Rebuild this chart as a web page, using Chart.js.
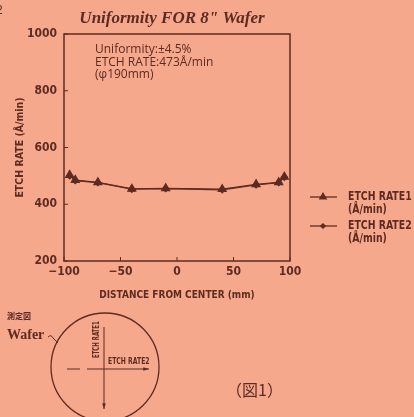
<!DOCTYPE html>
<html>
<head>
<meta charset="utf-8">
<script src="https://cdn.jsdelivr.net/npm/chart.js@4.4.1/dist/chart.umd.min.js"></script>
<style>
  html, body { margin: 0; padding: 0; background: #f5a88c; }
  canvas { display: block; }
</style>
</head>
<body>
<canvas id="chart" width="414" height="417"></canvas>
<script>
// distance from wafer center (mm) and measured etch rate (A/min)
const distances = [-95, -90, -70, -40, -10, 40, 70, 90, 95];
const etchRate1 = [503, 485, 477, 454, 456, 453, 470, 477, 497];
const etchRate2 = [500, 483, 476, 453, 455, 451, 468, 476, 495];
const seriesNames = ['ETCH RATE1', 'ETCH RATE2'];
const unitLabel = '(Å/min)';
const notes = ['Uniformity:±4.5%', 'ETCH RATE:473Å/min', '(φ190mm)'];

const ink = '#5e2b22';
const paper = '#f5a88c';
const narrow = "'DejaVu Sans Condensed', 'DejaVu Sans', sans-serif";

function arrow(c, x1, y1, x2, y2) {
  const a = Math.atan2(y2 - y1, x2 - x1);
  c.beginPath(); c.moveTo(x1, y1); c.lineTo(x2, y2); c.stroke();
  c.beginPath();
  c.moveTo(x2, y2);
  c.lineTo(x2 - 6 * Math.cos(a - 0.3), y2 - 6 * Math.sin(a - 0.3));
  c.lineTo(x2 - 6 * Math.cos(a + 0.3), y2 - 6 * Math.sin(a + 0.3));
  c.closePath(); c.fill();
}

// squeezed text, to get the condensed look of the original print
function squeeze(c, s, x, y, k) {
  c.save();
  c.translate(x, y);
  c.scale(k, 1);
  c.fillText(s, 0, 0);
  c.restore();
}

const decor = {
  id: 'decor',
  beforeDraw(chart) {
    const c = chart.ctx;
    c.save();
    c.fillStyle = paper;
    c.fillRect(0, 0, chart.width, chart.height);
    c.restore();
  },
  afterDraw(chart) {
    const c = chart.ctx;
    const {left, top, right, bottom} = chart.chartArea;
    const xs = chart.scales.x, ys = chart.scales.y;
    c.save();
    c.strokeStyle = ink;
    c.fillStyle = ink;

    // frame + inner ticks
    c.lineWidth = 1.5;
    c.strokeRect(left, top, right - left, bottom - top);
    c.lineWidth = 1;
    ys.ticks.forEach(t => {
      const py = ys.getPixelForValue(t.value);
      c.beginPath(); c.moveTo(left, py); c.lineTo(left + 4, py); c.stroke();
    });
    xs.ticks.forEach(t => {
      const px = xs.getPixelForValue(t.value);
      c.beginPath(); c.moveTo(px, bottom); c.lineTo(px, bottom - 4); c.stroke();
    });

    // title
    c.textAlign = 'center';
    c.textBaseline = 'middle';
    c.font = "italic bold 17px 'Liberation Serif', serif";
    c.fillText('Uniformity FOR 8" Wafer', 172, 19);

    // page number fragment
    c.textAlign = 'left';
    c.font = "12px 'Liberation Sans', sans-serif";
    c.fillText('2', -4, 11);

    // notes inside plot
    c.font = "12px 'Open Sans', sans-serif";
    notes.forEach((s, i) => c.fillText(s, 95, 50 + i * 12.5));

    // legend
    const legendY = [197, 226];
    chart.data.datasets.slice().reverse().forEach((ds, i) => {
      const y = legendY[i];
      c.lineWidth = 1.3;
      c.beginPath(); c.moveTo(310, y); c.lineTo(337, y); c.stroke();
      if (Chart.helpers && Chart.helpers.drawPoint) {
        Chart.helpers.drawPoint(c, {pointStyle: ds.pointStyle, radius: ds.pointRadius - 0.8, borderWidth: 1}, 323, y);
        c.fill();
      }
      c.font = "bold 13px " + narrow;
      squeeze(c, ds.label, 348, y, 0.8);
      squeeze(c, unitLabel, 348, y + 13, 0.8);
    });

    // wafer sketch
    c.lineWidth = 1.3;
    c.beginPath(); c.arc(105, 367, 54, 0, Math.PI * 2); c.stroke();
    c.lineWidth = 1;
    arrow(c, 104, 327, 104, 409);
    c.beginPath(); c.moveTo(67, 369); c.lineTo(80, 369); c.stroke();
    arrow(c, 87, 369, 149, 369);
    c.font = "bold 8px " + narrow;
    squeeze(c, 'ETCH RATE2', 108, 362, 0.85);
    c.save();
    c.translate(97, 358);
    c.rotate(-Math.PI / 2);
    squeeze(c, 'ETCH RATE1', 0, 0, 0.75);
    c.restore();
    c.font = "bold 14px 'Liberation Serif', serif";
    c.fillText('Wafer', 7, 335);
    c.beginPath();
    c.moveTo(48, 337);
    c.quadraticCurveTo(51, 334, 53, 338);
    c.lineTo(58, 343);
    c.stroke();
    c.font = "bold 8px 'Noto Sans CJK JP', sans-serif";
    c.fillText('測定図', 7, 316);
    c.font = "16px 'Noto Sans CJK JP', sans-serif";
    c.fillText('（図1）', 226, 390);
    c.restore();
  }
};

const toPoints = vals => distances.map((d, i) => ({x: d, y: vals[i]}));

new Chart(document.getElementById('chart').getContext('2d'), {
  type: 'line',
  data: {
    datasets: [
      {
        label: seriesNames[1],
        data: toPoints(etchRate2),
        pointStyle: 'rectRot',
        pointRadius: 3,
        borderColor: ink,
        backgroundColor: ink,
        borderWidth: 1.3,
        tension: 0
      },
      {
        label: seriesNames[0],
        data: toPoints(etchRate1),
        pointStyle: 'triangle',
        pointRadius: 4.5,
        borderColor: ink,
        backgroundColor: ink,
        borderWidth: 1.3,
        tension: 0
      }
    ]
  },
  options: {
    responsive: false,
    animation: false,
    layout: { padding: { left: 0, top: 34, right: 124, bottom: 111 } },
    plugins: { legend: { display: false }, tooltip: { enabled: false } },
    scales: {
      x: {
        type: 'linear',
        min: -100,
        max: 100,
        grid: { display: false, drawTicks: false },
        border: { display: false },
        ticks: {
          stepSize: 50,
          padding: 4,
          color: ink,
          font: { family: narrow, size: 12, weight: 'bold' },
          callback: v => String(v).replace('-', '−')
        },
        title: {
          display: true,
          text: 'DISTANCE FROM CENTER (mm)',
          color: ink,
          font: { family: narrow, size: 10, weight: 'bold' },
          padding: { bottom: 5 }
        },
        afterFit: s => { s.height = 45; }
      },
      y: {
        min: 200,
        max: 1000,
        grid: { display: false, drawTicks: false },
        border: { display: false },
        ticks: {
          stepSize: 200,
          padding: 7,
          color: ink,
          font: { family: narrow, size: 12, weight: 'bold' },
          callback: v => String(v)
        },
        title: {
          display: true,
          text: 'ETCH RATE (Å/min)',
          color: ink,
          font: { family: narrow, size: 10.5, weight: 'bold' },
          padding: { top: 14 }
        },
        afterFit: s => { s.width = 64; }
      }
    }
  },
  plugins: [decor]
});
</script>
</body>
</html>
